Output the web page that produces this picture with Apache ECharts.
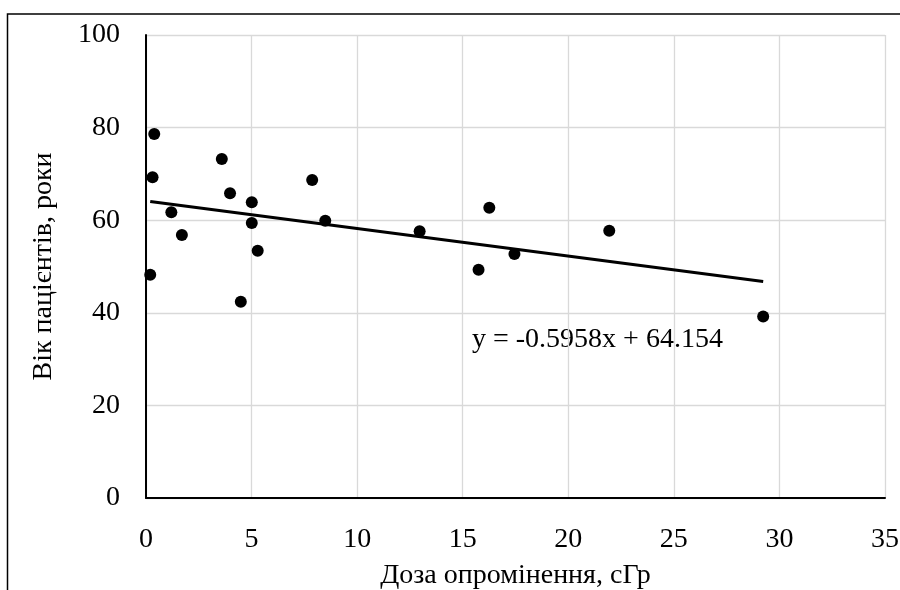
<!DOCTYPE html>
<html>
<head>
<meta charset="UTF-8">
<title>Доза опромінення та вік пацієнтів</title>
<style type="text/css">
html, body {
	margin: 0;
	padding: 0;
	background: #ffffff;
}
#main {
	width: 900px;
	height: 590px;
}
</style>
</head>
<body>
	<div id="main"></div>
<script type="text/javascript" src="https://cdn.jsdelivr.net/npm/echarts@6/dist/echarts.min.js"></script>
<script type="text/javascript">
	// doses, cGy
	var doseData = [ 0.2, 0.31, 0.39, 1.2, 1.7, 3.59, 3.98, 4.49, 5.01, 5.01,
			5.29, 7.87, 8.49, 12.96, 15.75, 16.26, 17.45, 21.94, 29.23 ];
	// patient age, years
	var ageData = [ 48.2, 69.3, 78.6, 61.7, 56.8, 73.2, 65.8, 42.4, 63.9, 59.4,
			53.4, 68.7, 59.9, 57.6, 49.3, 62.7, 52.7, 57.7, 39.2 ];
	// linear trend from the label on the chart
	var trendSlope = -0.5958;
	var trendIntercept = 64.154;
	var trendLabel = 'y = -0.5958x + 64.154';

	var xTitle = 'Доза опромінення, сГр';
	var yTitle = 'Вік пацієнтів, роки';

	var fontName = '"Liberation Serif", "Times New Roman", serif';

	var points = [];
	for (var i = 0; i < doseData.length; i++) {
		points.push([ doseData[i], ageData[i] ]);
	}
	var xMin = Math.min.apply(null, doseData);
	var xMax = Math.max.apply(null, doseData);
	var trendData = [ [ xMin, trendIntercept + trendSlope * xMin ],
			[ xMax, trendIntercept + trendSlope * xMax ] ];

	var chart = echarts.init(document.getElementById('main'));

	var option = {
		animation : false,
		backgroundColor : '#ffffff',
		textStyle : {
			fontFamily : fontName
		},
		grid : {
			left : 146,
			right : 15,
			top : 35,
			bottom : 92,
			outerBoundsMode : 'none'
		},
		xAxis : {
			type : 'value',
			min : 0,
			max : 35,
			interval : 5,
			name : xTitle,
			nameLocation : 'middle',
			nameGap : 64,
			nameTextStyle : {
				fontFamily : fontName,
				fontSize : 28,
				color : '#000'
			},
			axisLine : {
				lineStyle : {
					color : '#000',
					width : 2
				}
			},
			axisTick : {
				show : false
			},
			axisLabel : {
				fontFamily : fontName,
				fontSize : 28,
				color : '#000',
				margin : 28
			},
			splitLine : {
				lineStyle : {
					color : '#d9d9d9',
					width : 1.3
				}
			}
		},
		yAxis : {
			type : 'value',
			min : 0,
			max : 100,
			interval : 20,
			name : yTitle,
			nameLocation : 'middle',
			nameGap : 88,
			nameTextStyle : {
				fontFamily : fontName,
				fontSize : 28,
				color : '#000'
			},
			axisLine : {
				show : true,
				lineStyle : {
					color : '#000',
					width : 2
				}
			},
			axisTick : {
				show : false
			},
			axisLabel : {
				fontFamily : fontName,
				fontSize : 28,
				color : '#000',
				margin : 26
			},
			splitLine : {
				lineStyle : {
					color : '#d9d9d9',
					width : 1.3
				}
			}
		},
		graphic : [ {
			// chart frame
			type : 'rect',
			shape : {
				x : 7.5,
				y : 14,
				width : 900,
				height : 600
			},
			style : {
				fill : 'none',
				stroke : '#000',
				lineWidth : 1.5
			}
		}, {
			// trend equation
			type : 'text',
			left : 472,
			top : 326,
			style : {
				text : trendLabel,
				fontFamily : fontName,
				fontSize : 28,
				fill : '#000'
			}
		} ],
		series : [ {
			name : 'Пацієнти',
			type : 'scatter',
			data : points,
			symbol : 'circle',
			symbolSize : 12,
			itemStyle : {
				color : '#000',
				opacity : 1
			},
			z : 3
		}, {
			name : 'Тренд',
			type : 'line',
			data : trendData,
			showSymbol : false,
			symbol : 'none',
			lineStyle : {
				color : '#000',
				width : 3
			},
			z : 2
		} ]
	};

	chart.setOption(option);
</script>
</body>
</html>
